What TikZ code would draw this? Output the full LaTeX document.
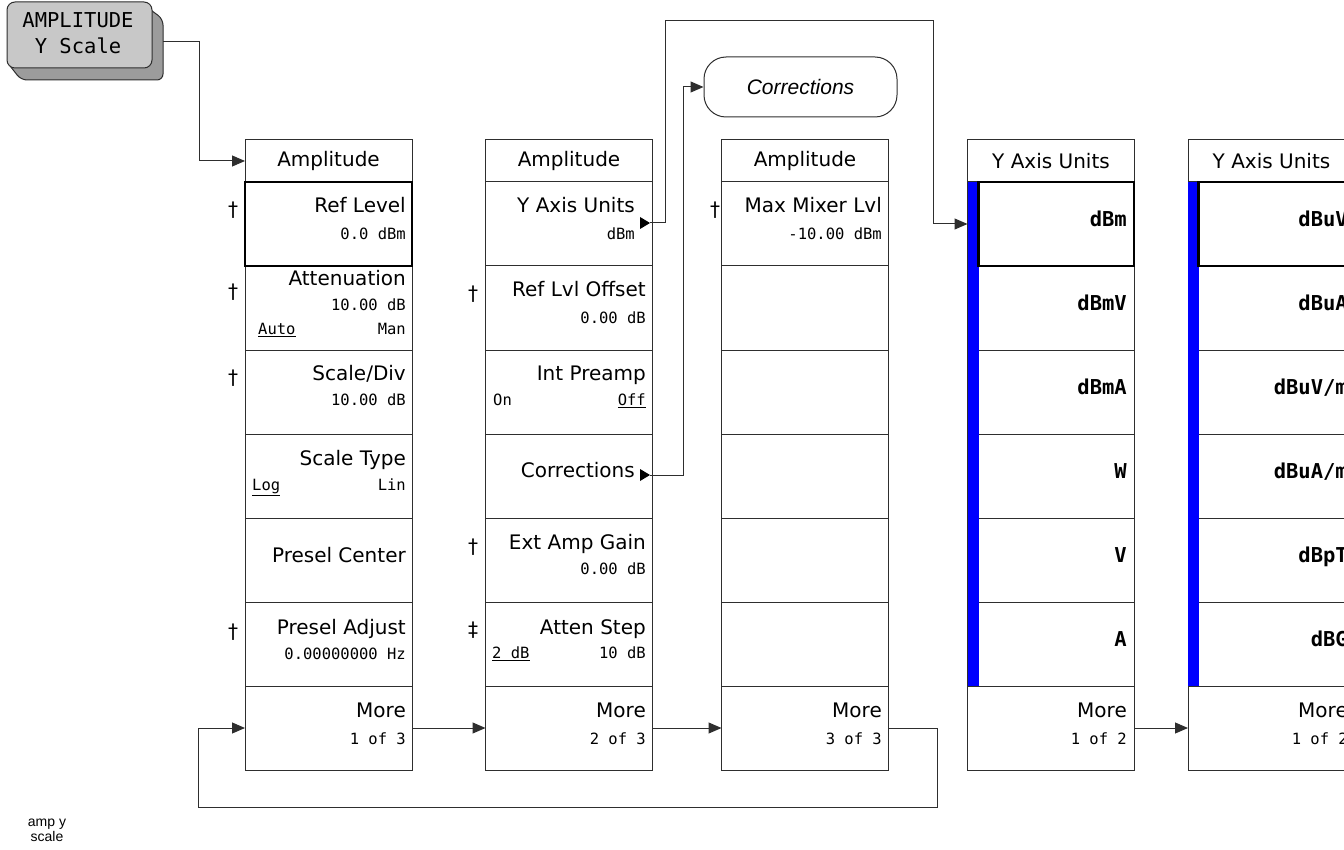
\documentclass[tikz,border=0pt]{standalone}
\usepackage{fontspec}
\setmainfont{DejaVu Sans}
\newfontfamily\labfont{DejaVu Sans}
\newfontfamily\valfont{DejaVu Sans Mono}
\newfontfamily\arialfont{Liberation Sans}
\usetikzlibrary{arrows.meta,calc}
\definecolor{lc}{HTML}{2E2E2E}
\definecolor{facegray}{HTML}{C8C8C8}
\definecolor{shadegray}{HTML}{9C9C9C}
\definecolor{barblue}{HTML}{0000FF}
\begin{document}
\begin{tikzpicture}[x=1pt,y=-1pt,
  cell/.style={draw=lc, line width=1pt, minimum width=167pt, minimum height=84pt, inner sep=0pt, outer sep=0pt},
  tcell/.style={cell, minimum height=42pt},
  lab/.style={font=\labfont\fontsize{20}{24}\selectfont, anchor=mid east, inner sep=0pt},
  ttl/.style={font=\labfont\fontsize{20}{24}\selectfont, anchor=center, inner sep=0pt},
  val/.style={font=\valfont\fontsize{15.5}{18}\selectfont, anchor=mid east, inner sep=0pt},
  valL/.style={font=\valfont\fontsize{15.5}{18}\selectfont, anchor=mid west, inner sep=0pt},
  unit/.style={font=\valfont\bfseries\fontsize{20.5}{24}\selectfont, anchor=mid east, inner sep=0pt},
  dag/.style={font=\labfont\fontsize{20}{24}\selectfont, anchor=center, inner sep=0pt},
  arr/.style={draw=lc, line width=1pt, -{Triangle[length=13pt,width=11pt]}},
  con/.style={draw=lc, line width=1pt},
  thickbox/.style={draw=black, line width=2.6pt},
]
\clip (0,0) rectangle (1344,850);

% ---------- key button ----------
\filldraw[fill=shadegray, draw=lc, line width=1pt, rounded corners=6pt]
  (140,2) -- (163,19) -- (163,80) -- (21,80) -- (7,62) -- cycle;
\node[draw=lc, line width=1pt, fill=facegray, rounded corners=8pt, minimum width=145pt, minimum height=66pt] (btn) at (79.5,35) {};
\node[font=\valfont\fontsize{20.5}{24}\selectfont, inner sep=0pt] (btn1) at (78,20) {AMPLITUDE};
\node[font=\valfont\fontsize{20.5}{24}\selectfont, inner sep=0pt] (btn2) at (78,46) {Y Scale};
\coordinate (btnout) at (163,42);

% ---------- columns ----------
\foreach \c/\x in {1/328.5,2/569,3/805,4/1051,5/1271.5} {
  \node[tcell] (c\c-t) at (\x,161) {};
  \foreach \r in {1,...,7} {
    \node[cell] (c\c-\r) at (\x,{224+84*(\r-1)}) {};
  }
}

% blue bars and thick selected boxes
\fill[barblue] (968,182) rectangle (978.5,686);
\fill[barblue] (1188,182) rectangle (1198.5,686);
\draw[thickbox] (245,182) rectangle (412,266);
\draw[thickbox] (978.5,182) rectangle (1134,266);
\draw[thickbox] (1198.5,182) rectangle (1360,266);

% titles
\node[ttl] (t1) at (c1-t) {Amplitude};
\node[ttl] (t2) at (c2-t) {Amplitude};
\node[ttl] (t3) at (c3-t) {Amplitude};
\node[ttl] (t4) at (c4-t) {Y Axis Units};
\node[ttl] (t5) at (c5-t) {Y Axis Units};

% ---------- column 1 ----------
\node[lab] (l11) at (406,210) {Ref Level};
\node[val] (v11) at (406,237) {0.0 dBm};
\node[dag] (d11) at (233,210) {†};
\node[lab] (l12) at (406,283) {Attenuation};
\node[val] (v12) at (406,308) {10.00 dB};
\node[valL] (a12) at (258,332) {\underline{Auto}};
\node[val] (m12) at (406,332) {Man};
\node[dag] (d12) at (233,292) {†};
\node[lab] (l13) at (406,378) {Scale/Div};
\node[val] (v13) at (406,403) {10.00 dB};
\node[dag] (d13) at (233,378) {†};
\node[lab] (l14) at (406,463) {Scale Type};
\node[valL] (a14) at (252,488) {\underline{Log}};
\node[val] (v14) at (406,488) {Lin};
\node[lab] (l15) at (406,560) {Presel Center};
\node[lab] (l16) at (406,632) {Presel Adjust};
\node[val] (v16) at (406,657) {0.00000000 Hz};
\node[dag] (d16) at (233,632) {†};
\node[lab] (l17) at (406,715) {More};
\node[val] (v17) at (406,742) {1 of 3};

% ---------- column 2 ----------
\node[lab] (l21) at (635,210) {Y Axis Units};
\node[val] (v21) at (635,237) {dBm};
\fill (640,217) -- (650,223) -- (640,229) -- cycle;
\coordinate (yaxtip) at (650,223);
\node[lab] (l22) at (646,294) {Ref Lvl Offset};
\node[val] (v22) at (646,321) {0.00 dB};
\node[dag] (d22) at (473,294) {†};
\node[lab] (l23) at (646,378) {Int Preamp};
\node[valL] (a23) at (493,403) {On};
\node[val] (v23) at (646,403) {\underline{Off}};
\node[lab] (l24) at (635,475) {Corrections};
\fill (640,469) -- (650,475) -- (640,481) -- cycle;
\coordinate (corrtip) at (650,475);
\node[lab] (l25) at (646,547) {Ext Amp Gain};
\node[val] (v25) at (646,572) {0.00 dB};
\node[dag] (d25) at (473,547) {†};
\node[lab] (l26) at (646,632) {Atten Step};
\node[valL] (a26) at (492,656) {\underline{2 dB}};
\node[val] (v26) at (646,656) {10 dB};
\node[dag] (d26) at (473,630) {‡};
\node[lab] (l27) at (646,715) {More};
\node[val] (v27) at (646,742) {2 of 3};

% ---------- column 3 ----------
\node[lab] (l31) at (882,210) {Max Mixer Lvl};
\node[val] (v31) at (882,237) {-10.00 dBm};
\node[dag] (d31) at (715,210) {†};
\node[lab] (l37) at (882,715) {More};
\node[val] (v37) at (882,742) {3 of 3};

% ---------- column 4 ----------
\node[unit] (u41) at (1127,224) {dBm};
\node[unit] (u42) at (1127,308) {dBmV};
\node[unit] (u43) at (1127,392) {dBmA};
\node[unit] (u44) at (1127,476) {W};
\node[unit] (u45) at (1127,560) {V};
\node[unit] (u46) at (1127,644) {A};
\node[lab] (l47) at (1127,715) {More};
\node[val] (v47) at (1127,742) {1 of 2};

% ---------- column 5 ----------
\node[unit] (u51) at (1348,224) {dBuV};
\node[unit] (u52) at (1348,308) {dBuA};
\node[unit] (u53) at (1348,392) {dBuV/m};
\node[unit] (u54) at (1348,476) {dBuA/m};
\node[unit] (u55) at (1348,560) {dBpT};
\node[unit] (u56) at (1348,644) {dBG};
\node[lab] (l57) at (1348,715) {More};
\node[val] (v57) at (1348,742) {1 of 2};

% ---------- corrections terminal ----------
\node[draw=lc, line width=1pt, rounded corners=22pt, minimum width=193pt, minimum height=60pt,
      font=\arialfont\itshape\fontsize{21}{24}\selectfont] (corr) at (800.5,87) {Corrections};

% ---------- connectors ----------
\draw[arr] (btnout) -| (199,161) -- (c1-t.west);
\draw[arr] (c1-7.east) -- (c2-7.west);
\draw[arr] (c2-7.east) -- (c3-7.west);
\draw[arr] (c3-7.east) -| (937,807) -| (198,728) -- (c1-7.west);
\draw[arr] (c4-7.east) -- (c5-7.west);
\draw[arr] (yaxtip) -| (665,21) -| (933,224) -- (c4-1.west);
\draw[arr] (corrtip) -| (683,87) -- (corr.west);

% ---------- figure tag ----------
\node[font=\arialfont\fontsize{14}{16}\selectfont, align=center, inner sep=0pt] (tag) at (47,830) {amp y\\[-1pt]scale};
\end{tikzpicture}
\end{document}
